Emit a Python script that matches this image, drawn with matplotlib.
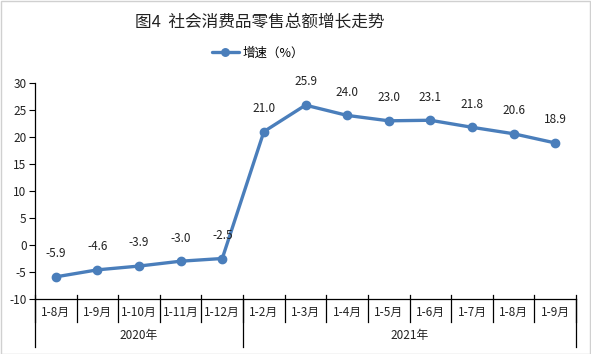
import matplotlib.pyplot as plt
import matplotlib.transforms as mtransforms
import numpy as np

plt.rcParams['font.family'] = ['Noto Sans CJK SC', 'DejaVu Sans']
plt.rcParams['axes.unicode_minus'] = False

months = ['1-8月', '1-9月', '1-10月', '1-11月', '1-12月',
          '1-2月', '1-3月', '1-4月', '1-5月', '1-6月', '1-7月', '1-8月', '1-9月']
growth = [-5.9, -4.6, -3.9, -3.0, -2.5,
          21.0, 25.9, 24.0, 23.0, 23.1, 21.8, 20.6, 18.9]
years = ['2020年', '2021年']
year_counts = [5, 8]

line_color = '#4A7EBB'

fig = plt.figure(figsize=(5.91, 3.54), dpi=100)
ax = fig.add_axes([35 / 591, 55 / 354, 541 / 591, 216 / 354])

x = np.arange(len(months))
ax.plot(x, growth, color=line_color, lw=2.4, marker='o', ms=6, label='增速（%）',
        solid_capstyle='round', solid_joinstyle='round', clip_on=False)

for xi, v in zip(x, growth):
    ax.annotate(f'{v:.1f}', (xi, v), xytext=(0, 12), textcoords='offset points',
                ha='center', va='bottom', fontsize=8.5, color='#222222')

ax.set_xlim(-0.5, len(months) - 0.5)
ax.set_ylim(-10, 30)
ax.set_yticks(np.arange(-10, 31, 5))
ax.tick_params(axis='y', labelsize=8.5, length=4, width=0.8, pad=2, labelcolor='#222222')

for side in ['top', 'right']:
    ax.spines[side].set_visible(False)
ax.spines['left'].set_linewidth(0.9)
ax.spines['bottom'].set_linewidth(0.9)

# category dividers
ax.set_xticks([])

trans = mtransforms.blended_transform_factory(ax.transData, ax.transAxes)
px = 1 / 216  # one pixel in axes height units
for b in np.arange(-0.5, len(months), 1):
    ax.plot([b, b], [4 * px, -23 * px], color='black', lw=0.9, transform=trans, clip_on=False)

for xi, m in zip(x, months):
    ax.text(xi, -13 * px, m, transform=trans, ha='center', va='center', fontsize=8.5, color='#222222')

# year groups
start = -0.5
for yname, cnt in zip(years, year_counts):
    ax.plot([start, start], [0, -48 * px], color='black', lw=0.9, transform=trans, clip_on=False)
    ax.text(start + cnt / 2, -36 * px, yname, transform=trans, ha='center', va='center',
            fontsize=8.5, color='#222222')
    start += cnt
ax.plot([start, start], [0, -48 * px], color='black', lw=0.9, transform=trans, clip_on=False)

fig.text(260 / 591, 1 - 22 / 354, '图4  社会消费品零售总额增长走势', ha='center', va='center',
         fontsize=12, color='#222222')
fig.legend(loc='center', bbox_to_anchor=(258 / 591, 1 - 53 / 354), frameon=False,
           fontsize=9, handlelength=2.2, handletextpad=0.3, markerscale=0.9)

fig.patches.append(plt.Rectangle((0.001, 0.001), 0.997, 0.996, transform=fig.transFigure,
                                 fill=False, edgecolor='#D0D0D0', lw=1))

fig.savefig('out.png', dpi=100)
